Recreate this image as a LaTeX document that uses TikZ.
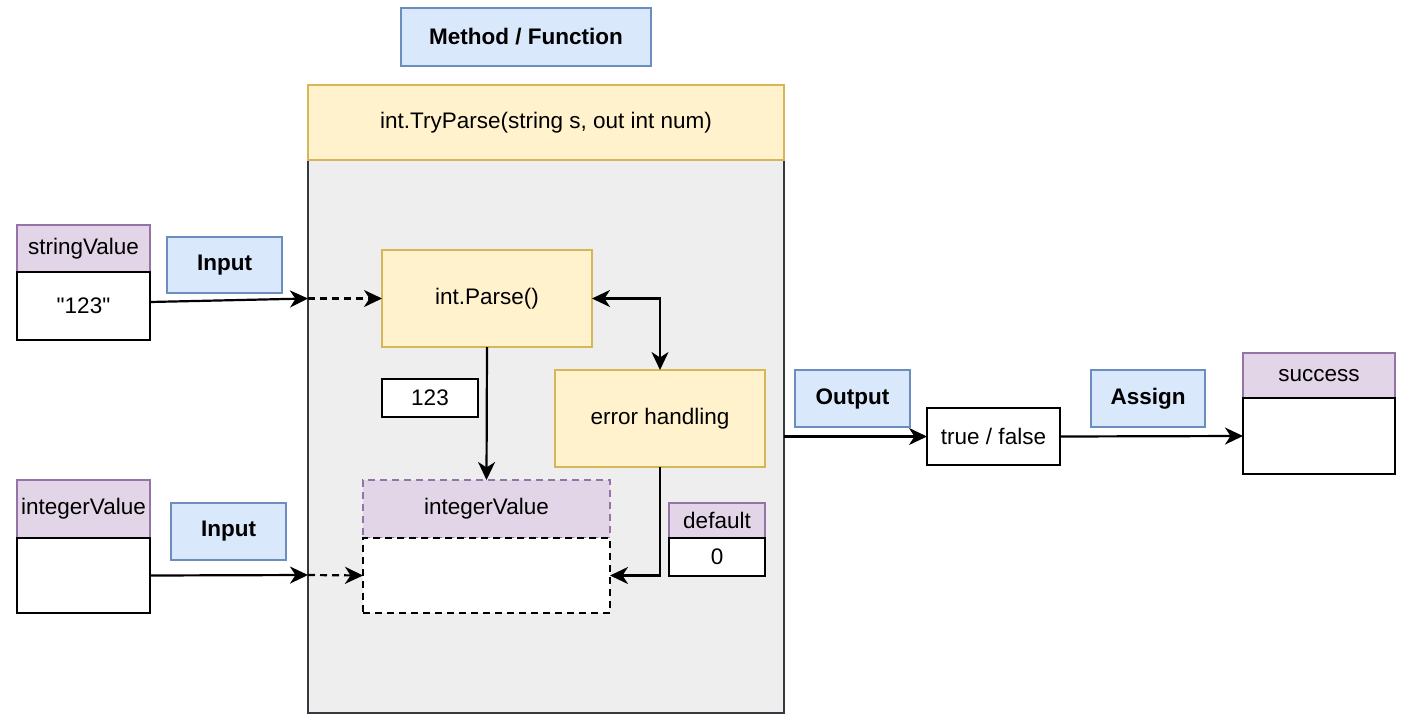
\documentclass[tikz,border=0pt]{standalone}
\usepackage{fontspec}
\setmainfont{Liberation Sans}[Ligatures=TeXOff]
\usetikzlibrary{arrows.meta}
\definecolor{bluefill}{HTML}{DAE8FC}
\definecolor{bluedraw}{HTML}{6C8EBF}
\definecolor{yelfill}{HTML}{FFF2CC}
\definecolor{yeldraw}{HTML}{D6B656}
\definecolor{purfill}{HTML}{E1D5E7}
\definecolor{purdraw}{HTML}{9673A6}
\definecolor{grayfill}{HTML}{EEEEEE}
\definecolor{graydraw}{HTML}{36393D}
\tikzset{
  base/.style={rectangle, inner sep=0pt, outer sep=0pt, line width=1.8pt, font=\fontsize{22.5}{27}\selectfont, align=center},
  bluebox/.style={base, fill=bluefill, draw=bluedraw, font=\fontsize{22.5}{27}\selectfont\bfseries},
  yelbox/.style={base, fill=yelfill, draw=yeldraw},
  purbox/.style={base, fill=purfill, draw=purdraw},
  whitebox/.style={base, fill=white, draw=black},
  graybox/.style={base, fill=grayfill, draw=graydraw, line width=2.2pt},
  dashbox/.style={dash pattern=on 7pt off 5pt},
  sz/.style n args={2}{minimum width=#1pt, minimum height=#2pt},
  tip/.tip={Stealth[length=18pt,width=17pt,inset=5.5pt]},
  conn/.style={line width=2.2pt, -tip},
  dconn/.style={conn, dash pattern=on 7pt off 5pt},
  biconn/.style={line width=2.2pt, tip-tip}
}
\begin{document}
\begin{tikzpicture}[x=1pt,y=-1pt]
\useasboundingbox (0,0) rectangle (1403,728);
\fill[white] (0,0) rectangle (1403,728);

\node[bluebox, sz={250}{58}] (meth) at (526,37) {Method / Function};
\node[graybox, sz={476}{553}] (cont) at (546,436.5) {};
\node[yelbox, sz={476}{75}] (tph) at (546,122.5) {int.TryParse(string s, out int num)};

\node[purbox, sz={133}{47}] (svH) at (83.5,248.5) {stringValue};
\node[whitebox, sz={133}{68}] (svB) at (83.5,306) {"123"};
\node[bluebox, sz={115}{56}] (in1) at (224.5,265) {Input};

\node[yelbox, sz={210}{97}] (parse) at (487,298.5) {int.Parse()};
\node[yelbox, sz={210}{97}] (err) at (660,418.5) {error handling};
\node[whitebox, sz={96}{38}] (n123) at (430,398) {123};

\node[purbox, dashbox, sz={247}{58}] (ivH) at (486.5,509) {integerValue};
\node[whitebox, dashbox, sz={247}{75}] (ivB) at (486.5,575.5) {};

\node[purbox, sz={96}{35}] (defH) at (717,520.5) {default};
\node[whitebox, sz={96}{38}] (defB) at (717,557) {0};

\node[purbox, sz={133}{58}] (oivH) at (83.5,509) {integerValue};
\node[whitebox, sz={133}{75}] (oivB) at (83.5,575.5) {};
\node[bluebox, sz={115}{57}] (in2) at (228.5,531.5) {Input};

\node[bluebox, sz={115}{57}] (out) at (852.5,398.5) {Output};
\node[whitebox, sz={133}{57}] (tf) at (993.5,436.5) {true / false};
\node[bluebox, sz={114}{57}] (assign) at (1148,398.5) {Assign};
\node[purbox, sz={152}{45}] (sucH) at (1319,375.5) {success};
\node[whitebox, sz={152}{76}] (sucB) at (1319,436) {};

\coordinate (c1) at (308,298.5);
\coordinate (c2) at (308,575);

\draw[conn] ([yshift=4pt]svB.east) -- (c1);
\draw[dconn] (c1) -- (parse.west);
\draw[conn] (parse.south) -- (ivH.north);
\draw[biconn] (parse.east) -| (err.north);
\draw[conn] (err.south) |- (ivB.east);
\draw[conn] (oivB.east) -- (c2);
\draw[dconn] (c2) -- (ivB.west);
\draw[conn] (cont.east) -- (tf.west);
\draw[conn] (tf.east) -- (sucB.west);
\end{tikzpicture}
\end{document}
